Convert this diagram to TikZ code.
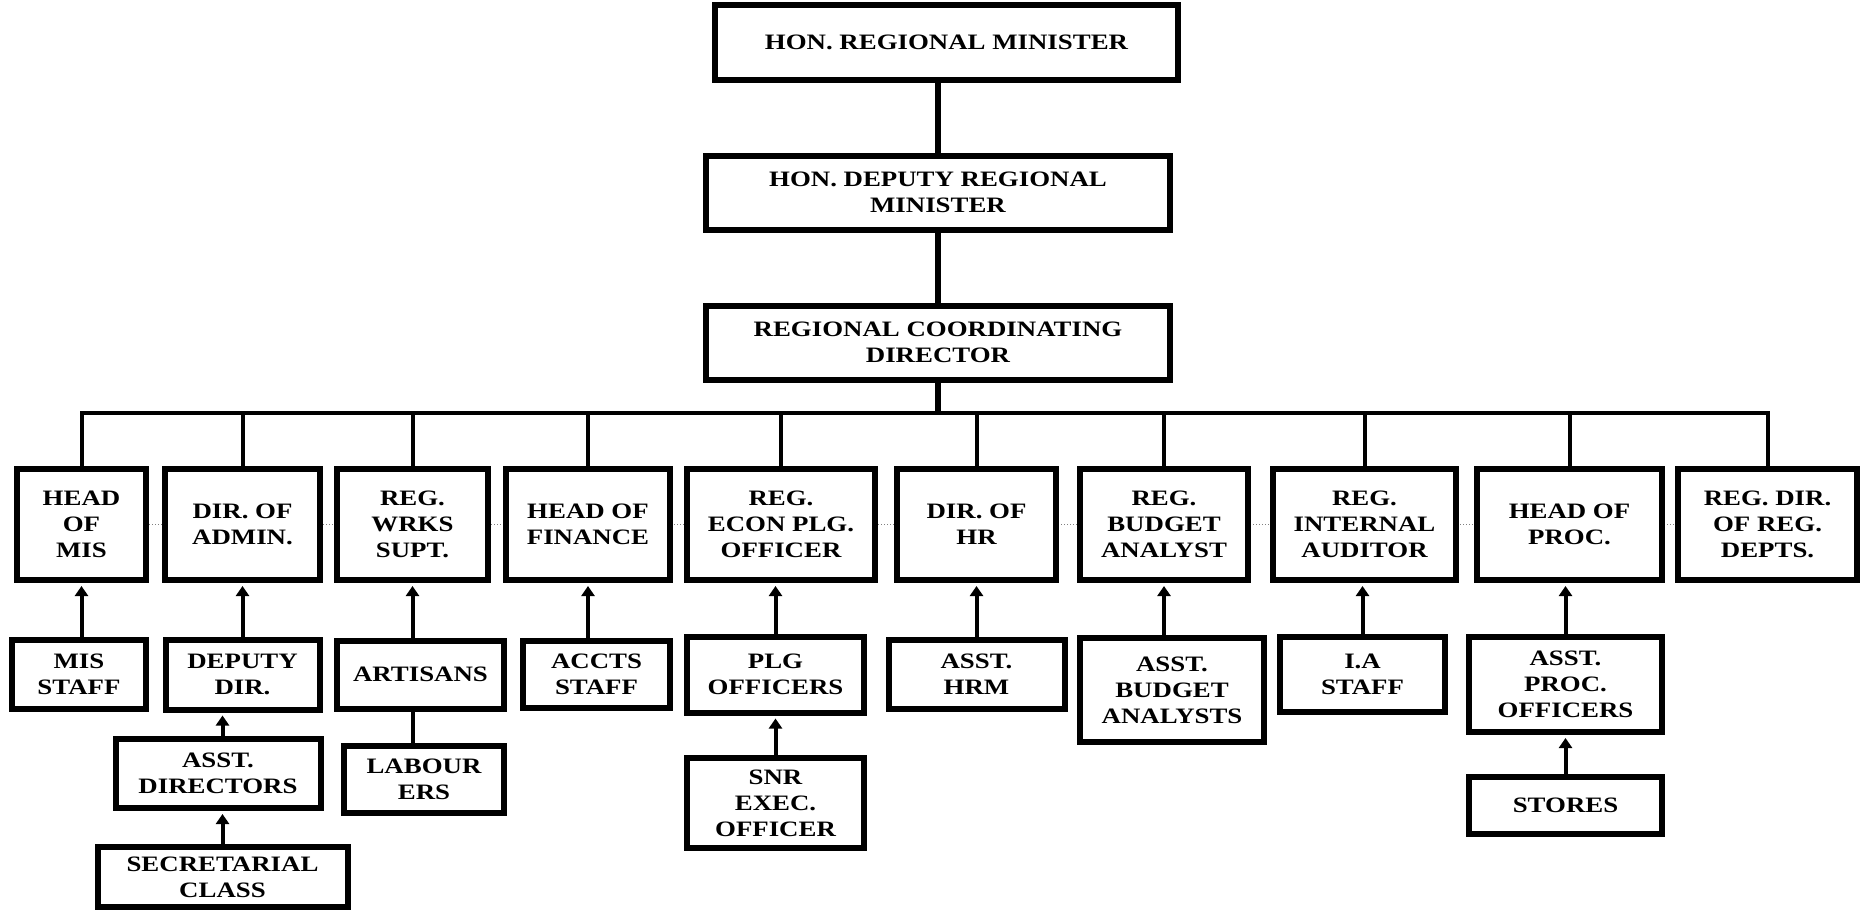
\documentclass[tikz,border=0pt]{standalone}
\usepackage{fontspec}
\setmainfont{Liberation Serif}[FakeStretch=1.22]
\usetikzlibrary{arrows.meta,backgrounds}

\tikzstyle{post} = [rectangle, draw=black, fill=white, line width=3pt, inner sep=0pt, align=center, font=\bfseries\fontsize{11}{13}\selectfont]
\tikzstyle{head} = [post, minimum height=55.5pt]
\tikzstyle{trunk} = [line width=2.75pt]
\tikzstyle{link} = [line width=2pt]
\tikzstyle{arrow} = [line width=2pt,->,>={Triangle[width=6.5pt,length=5pt]},shorten >=1.5pt]
\tikzstyle{guide} = [densely dotted, gray, line width=0.5pt]

\begin{document}
\begin{tikzpicture}[x=0.5pt, y=-0.5pt, node distance=75pt]
	\useasboundingbox (0,0) rectangle (1861,912);

	% top of the chart
	\node (minister) [post, minimum width=231.5pt, minimum height=37.5pt] at (946.5,42.5) {HON. REGIONAL MINISTER};
	\node (deputy) [post, minimum width=232pt, minimum height=37pt, below of=minister, xshift=-4.25pt] {HON. DEPUTY REGIONAL\\MINISTER};
	\node (rcd) [post, minimum width=232pt, minimum height=37pt, below of=deputy] {REGIONAL COORDINATING\\DIRECTOR};
	\coordinate (bus) at (938,413);

	% heads of departments
	\node (mis) [head, minimum width=64.5pt] at (81.5,524.5) {HEAD\\OF\\MIS};
	\node (admin) [head, minimum width=77.5pt] at (242.5,524.5) {DIR. OF\\ADMIN.};
	\node (works) [head, minimum width=75.5pt] at (412.5,524.5) {REG.\\WRKS\\SUPT.};
	\node (finance) [head, minimum width=82pt] at (588,524.5) {HEAD OF\\FINANCE};
	\node (econ) [head, minimum width=94pt] at (781,524.5) {REG.\\ECON PLG.\\OFFICER};
	\node (hr) [head, minimum width=79.5pt] at (976.5,524.5) {DIR. OF\\HR};
	\node (budget) [head, minimum width=84pt] at (1164,524.5) {REG.\\BUDGET\\ANALYST};
	\node (audit) [head, minimum width=91.5pt] at (1364.5,524.5) {REG.\\INTERNAL\\AUDITOR};
	\node (proc) [head, minimum width=92.5pt] at (1569.5,524.5) {HEAD OF\\PROC.};
	\node (regdir) [head, minimum width=89.5pt] at (1767.5,524.5) {REG. DIR.\\OF REG.\\DEPTS.};

	% staff under them
	\node (misstaff) [post, minimum width=67pt, minimum height=34.5pt, below of=mis, xshift=-1.25pt] {MIS\\STAFF};
	\node (deputydir) [post, minimum width=77pt, minimum height=35pt, below of=admin] {DEPUTY\\DIR.};
	\node (asstdir) [post, minimum width=102.5pt, minimum height=34.5pt, below of=deputydir, node distance=49.5pt, xshift=-12.25pt] {ASST.\\DIRECTORS};
	\node (secretarial) [post, minimum width=125pt, minimum height=30pt, below of=asstdir, node distance=51.75pt, xshift=2.25pt] {SECRETARIAL\\CLASS};
	\node (artisans) [post, minimum width=83.5pt, minimum height=34pt, below of=works, xshift=4pt] {ARTISANS};
	\node (labourers) [post, minimum width=80pt, minimum height=33.5pt, below of=artisans, node distance=52.5pt, xshift=1.75pt] {LABOUR\\ERS};
	\node (accts) [post, minimum width=73.5pt, minimum height=33.5pt, below of=finance, xshift=4.25pt] {ACCTS\\STAFF};
	\node (plg) [post, minimum width=88.5pt, minimum height=38pt, below of=econ, xshift=-2.75pt] {PLG\\OFFICERS};
	\node (snr) [post, minimum width=88.5pt, minimum height=45pt, below of=plg, node distance=64.25pt] {SNR\\EXEC.\\OFFICER};
	\node (assthrm) [post, minimum width=88pt, minimum height=34.5pt, below of=hr] {ASST.\\HRM};
	\node (asstbudget) [post, minimum width=92pt, minimum height=52pt, below of=budget, node distance=82.75pt, xshift=4pt] {ASST.\\BUDGET\\ANALYSTS};
	\node (iastaff) [post, minimum width=82.5pt, minimum height=37.5pt, below of=audit, xshift=-1pt] {I.A\\STAFF};
	\node (asstproc) [post, minimum width=96.5pt, minimum height=47.5pt, below of=proc, node distance=80pt, xshift=-2pt] {ASST.\\PROC.\\OFFICERS};
	\node (stores) [post, minimum width=96.5pt, minimum height=28.5pt, below of=asstproc, node distance=60.5pt] {STORES};

	\begin{scope}[on background layer]
		\draw [guide] (mis) -- (regdir);
	\end{scope}

	\draw [trunk] (deputy.north) -- (deputy.north |- minister.south);
	\draw [trunk] (rcd.north) -- (deputy.south);
	\draw [trunk] (rcd.south) -- (bus);

	\draw [link] (mis.north) |- (bus);
	\draw [link] (admin.north) |- (bus);
	\draw [link] (works.north) |- (bus);
	\draw [link] (finance.north) |- (bus);
	\draw [link] (econ.north) |- (bus);
	\draw [link] (hr.north) |- (bus);
	\draw [link] (budget.north) |- (bus);
	\draw [link] (audit.north) |- (bus);
	\draw [link] (proc.north) |- (bus);
	\draw [link] (regdir.north) |- (bus);

	\draw [arrow] (misstaff.north -| mis.south) -- (mis.south);
	\draw [arrow] (deputydir.north -| admin.south) -- (admin.south);
	\draw [arrow] (asstdir.north -| secretarial.north) -- (deputydir.south -| secretarial.north);
	\draw [arrow] (secretarial.north) -- (asstdir.south -| secretarial.north);
	\draw [arrow] (artisans.north -| works.south) -- (works.south);
	\draw [link] (labourers.north -| works.south) -- (artisans.south -| works.south);
	\draw [arrow] (accts.north -| finance.south) -- (finance.south);
	\draw [arrow] (plg.north) -- (plg.north |- econ.south);
	\draw [arrow] (snr.north) -- (plg.south);
	\draw [arrow] (assthrm.north) -- (assthrm.north |- hr.south);
	\draw [arrow] (asstbudget.north -| budget.south) -- (budget.south);
	\draw [arrow] (iastaff.north) -- (iastaff.north |- audit.south);
	\draw [arrow] (asstproc.north) -- (asstproc.north |- proc.south);
	\draw [arrow] (stores.north) -- (asstproc.south);
\end{tikzpicture}
\end{document}
